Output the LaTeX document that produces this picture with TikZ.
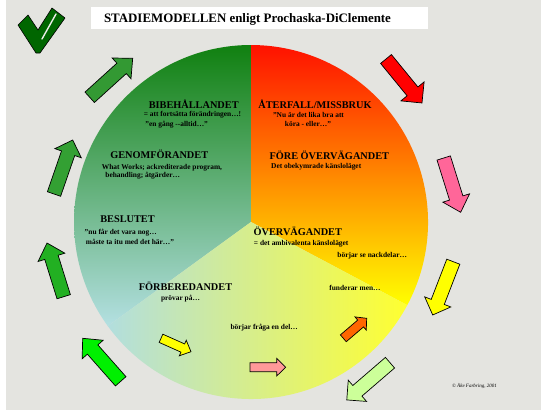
\documentclass[tikz,border=0pt]{standalone}
\usepackage{fontspec}
\setmainfont{Liberation Serif}
\definecolor{bg}{HTML}{E4E4E0}
\definecolor{secGtop}{HTML}{108010}
\definecolor{secGmid}{HTML}{6EAE96}
\definecolor{secGbot}{HTML}{B4E0E2}
\definecolor{secRtop}{HTML}{FF1100}
\definecolor{secRmid}{HTML}{FFB000}
\definecolor{secRbot}{HTML}{FFFF00}
\definecolor{secBleft}{HTML}{B2DEDE}
\definecolor{secBmid}{HTML}{E8F09C}
\definecolor{secBright}{HTML}{FFFF30}
\definecolor{arRed}{HTML}{FF0000}
\definecolor{arPink}{HTML}{FF6699}
\definecolor{arYellow}{HTML}{FFFF00}
\definecolor{arLight}{HTML}{CCFF99}
\definecolor{arBright}{HTML}{00F000}
\definecolor{arGsix}{HTML}{22B022}
\definecolor{arGseven}{HTML}{33A033}
\definecolor{arGeight}{HTML}{339933}
\definecolor{arSPink}{HTML}{FF9999}
\definecolor{arOrange}{HTML}{FF6600}
\definecolor{checkG}{HTML}{006600}
\tikzset{
  big/.style={font=\fontsize{10.3}{12}\selectfont\bfseries, anchor=base, inner sep=0pt},
  small/.style={font=\fontsize{7.4}{9}\selectfont\bfseries, anchor=base, inner sep=0pt},
  titlefont/.style={font=\fontsize{12.9}{15}\selectfont\bfseries, anchor=base, inner sep=0pt},
  copyfont/.style={font=\fontsize{5}{6}\selectfont\itshape, anchor=base, inner sep=0pt},
  blockarrow/.style={draw=black, line width=0.7pt, line join=miter},
}
% color, x1, y1, x2, y2 (pixel, y down), half shaft, half head, head length
\newcommand\blockarr[8]{%
  \pgfmathsetmacro\baAng{atan2(#3-#5,#4-#2)}%
  \pgfmathsetmacro\baLen{veclen(#4-#2,#5-#3)}%
  \pgfmathsetmacro\baNeck{\baLen-#8}%
  \filldraw[blockarrow,fill=#1,shift={(#2,-#3)},rotate=\baAng]
    (0,-#6) -- (\baNeck,-#6) -- (\baNeck,-#7) -- (\baLen,0) --
    (\baNeck,#7) -- (\baNeck,#6) -- (0,#6) -- cycle;}
\begin{document}
\begin{tikzpicture}[x=1pt,y=1pt]
\useasboundingbox (0,0) rectangle (541,-410);
\fill[white] (0,0) rectangle (541,-410);
\fill[bg] (6,0) rectangle (541,-410);
% title box
\fill[white] (91,-7) rectangle (428,-29);
\node[titlefont] (title) at (247.5,-22.7) {STADIEMODELLEN enligt Prochaska-DiClemente};
% check mark
\filldraw[checkG, draw=black, line width=0.6pt, line join=round]
  (18,-25) -- (28,-15) -- (38,-30) -- (52,-8) -- (65,-18) -- (40,-53) -- (36,-53) -- cycle;
\draw[bg!70!white, line width=1.4pt, line cap=round] (42,-39) -- (56,-14);
% circle sectors
\coordinate (C) at (251,-222);
\shade[top color=secGtop, middle color=secGmid, bottom color=secGbot]
  (C) -- ++(90:177) arc[start angle=90, end angle=216, radius=177] -- cycle;
\shade[top color=secRtop, middle color=secRmid, bottom color=secRbot]
  (C) -- ++(-28:177) arc[start angle=-28, end angle=90, radius=177] -- cycle;
\shade[left color=secBleft, middle color=secBmid, right color=secBright]
  (C) -- ++(216:177) arc[start angle=216, end angle=332, radius=177] -- cycle;
% outer arrows
\blockarr{arRed}{386}{59}{422}{103}{7}{15}{15}
\blockarr{arPink}{443.7}{158}{460.7}{212.3}{7}{14}{15}
\blockarr{arYellow}{453.3}{261.7}{432.7}{315}{7}{14}{14}
\blockarr{arLight}{390}{362.7}{346.7}{400}{7}{14}{14}
\blockarr{arBright}{120.7}{381.3}{82.7}{338.3}{7}{14}{15}
\blockarr{arGsix}{63.7}{296.7}{47}{243}{7}{14}{15}
\blockarr{arGseven}{54}{194}{72.7}{140}{7}{14}{14}
\blockarr{arGeight}{89.7}{97.3}{132.7}{58.3}{7}{14}{15}
% inner arrows
\blockarr{arYellow}{161}{338.3}{191}{351.7}{4.5}{8.5}{9}
\blockarr{arSPink}{250}{367.2}{285.7}{367.2}{4.5}{8.8}{9}
\blockarr{arOrange}{343.3}{338.3}{366.7}{318.3}{4.5}{8.7}{8}
% labels left sector
\node[big] (bib) at (193.7,-108.3) {BIBEHÅLLANDET};
\node[small] (bib1) at (192.5,-116.7) {= att fortsätta förändringen…!};
\node[small] (bib2) at (176.7,-126) {"en gång -{}-alltid…"};
\node[big] (gen) at (159.2,-158.3) {GENOMFÖRANDET};
\node[small] (gen1) at (162,-169.3) {What Works; ackrediterade program,};
\node[small] (gen2) at (142.7,-177.7) {behandling; åtgärder…};
\node[big] (bes) at (127.5,-222.3) {BESLUTET};
\node[small] (bes1) at (120.7,-234.3) {"nu får det vara nog…};
\node[small] (bes2) at (130,-244) {måste ta itu med det här…"};
% labels right sector
\node[big] (ater) at (315,-108.3) {ÅTERFALL/MISSBRUK};
\node[small] (ater1) at (308.5,-117.3) {"Nu är det lika bra att};
\node[small] (ater2) at (308,-126.7) {köra - eller…"};
\node[big] (fore) at (329.3,-159.3) {FÖRE ÖVERVÄGANDET};
\node[small] (fore1) at (316.2,-168.3) {Det obekymrade känsloläget};
\node[big] (overv) at (297.8,-235) {ÖVERVÄGANDET};
\node[small] (overv1) at (301.2,-245) {= det ambivalenta känsloläget};
\node[small] (nack) at (372.2,-257.7) {börjar se nackdelar…};
% labels bottom sector
\node[big] (forb) at (185.5,-290) {FÖRBEREDANDET};
\node[small] (forb1) at (180.5,-300) {prövar på…};
\node[small] (fund) at (355,-290.7) {funderar men…};
\node[small] (fraga) at (264.2,-329.3) {börjar fråga en del…};
\node[copyfont] (copy) at (474.5,-387.3) {© Åke Farbring, 2001};
\end{tikzpicture}
\end{document}
